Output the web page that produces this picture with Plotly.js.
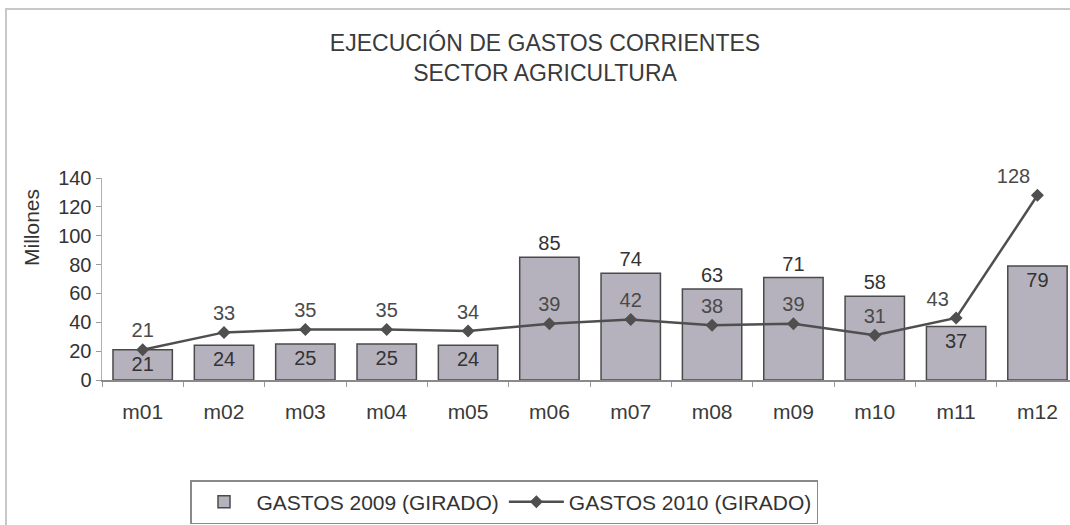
<!DOCTYPE html>
<html>
<head>
<meta charset="utf-8">
<script src="https://cdn.plot.ly/plotly-3.0.1.min.js"></script>
<style>
  html, body { margin: 0; padding: 0; background: #ffffff; }
  #chart { width: 1070px; height: 525px; }
</style>
</head>
<body>
<div id="chart"></div>
<script>
const months = ['m01','m02','m03','m04','m05','m06','m07','m08','m09','m10','m11','m12'];
const gastos2009 = [21, 24, 25, 25, 24, 85, 74, 63, 71, 58, 37, 79];
const gastos2010 = [21, 33, 35, 35, 34, 39, 42, 38, 39, 31, 43, 128];
const yTicks = [0, 20, 40, 60, 80, 100, 120, 140];

const barLabelPos = ['inside','inside','inside','inside','inside','outside','outside','outside','outside','outside','inside','inside'];
const lineLabelPos = ['top center','top center','top center','top center','top center','top center','top center','top center','top center','top center','top left','top left'];

const FONT = '"Liberation Sans", Arial, sans-serif';

const traces = [
  {
    type: 'bar',
    name: 'GASTOS 2009 (GIRADO)',
    x: months,
    y: gastos2009,
    text: gastos2009.map(String),
    textposition: barLabelPos,
    insidetextanchor: 'end',
    constraintext: 'none',
    textangle: 0,
    insidetextfont: { family: FONT, size: 20, color: '#333333' },
    outsidetextfont: { family: FONT, size: 20, color: '#333333' },
    cliponaxis: false,
    marker: { color: '#b6b2bd', line: { color: '#4a4a4a', width: 1.5 } },
    hoverinfo: 'x+y'
  },
  {
    type: 'scatter',
    mode: 'lines+markers+text',
    name: 'GASTOS 2010 (GIRADO)',
    x: months,
    y: gastos2010,
    text: gastos2010.map(String),
    textposition: lineLabelPos,
    textfont: { family: FONT, size: 20, color: '#4a4a4a' },
    cliponaxis: false,
    line: { color: '#4f4f4f', width: 2.5 },
    marker: { symbol: 'diamond', size: 10, color: '#4f4f4f' },
    hoverinfo: 'x+y'
  }
];

const layout = {
  width: 1070,
  height: 525,
  margin: { l: 102, r: 0, t: 178, b: 145, pad: 0 },
  paper_bgcolor: '#ffffff',
  plot_bgcolor: '#ffffff',
  font: { family: FONT, color: '#333333' },
  bargap: 0.27,
  showlegend: true,
  title: {
    text: 'EJECUCIÓN DE GASTOS CORRIENTES<br>SECTOR AGRICULTURA',
    font: { family: FONT, size: 23, color: '#3a3a3a' },
    xref: 'container', x: 545 / 1070, xanchor: 'center',
    yref: 'container', y: 1 - 51 / 525, yanchor: 'middle'
  },
  xaxis: {
    type: 'category',
    range: [-0.5, 11.4],
    showline: true,
    linecolor: '#8a8a8a',
    linewidth: 1.5,
    ticks: 'outside',
    tickson: 'boundaries',
    ticklen: 5,
    tickcolor: '#999999',
    ticklabelstandoff: 12,
    tickfont: { family: FONT, size: 21, color: '#3a3a3a' },
    showgrid: false,
    zeroline: false,
    fixedrange: true
  },
  yaxis: {
    range: [0, 140],
    tickvals: yTicks,
    ticktext: yTicks.map(String),
    showline: true,
    linecolor: '#b0b0b0',
    linewidth: 1.5,
    ticks: 'outside',
    ticklen: 5,
    tickcolor: '#999999',
    tickfont: { family: FONT, size: 20, color: '#333333' },
    showgrid: false,
    zeroline: false,
    fixedrange: true
  },
  annotations: [
    {
      text: 'Millones',
      textangle: -90,
      xref: 'paper', yref: 'paper',
      x: (31 - 102) / 968, y: (380 - 228) / 202,
      xanchor: 'center', yanchor: 'middle',
      showarrow: false,
      font: { family: FONT, size: 21, color: '#333333' }
    }
  ],
  legend: {
    orientation: 'h',
    xref: 'container', x: 190 / 1070, xanchor: 'left',
    yref: 'container', y: (525 - 480) / 525, yanchor: 'top',
    bordercolor: '#8a8a8a',
    borderwidth: 1.5,
    bgcolor: '#ffffff',
    font: { family: FONT, size: 21, color: '#333333' },
    itemwidth: 55,
    traceorder: 'normal'
  },
  shapes: [
    {
      type: 'rect', xref: 'paper', yref: 'paper',
      x0: (6 - 102) / 968, x1: 1.02,
      y0: (380 - 540) / 202, y1: (380 - 9) / 202,
      line: { color: '#c8c8c8', width: 2 },
      fillcolor: 'rgba(0,0,0,0)',
      layer: 'below'
    }
  ]
};

Plotly.newPlot('chart', traces, layout, { displayModeBar: false, staticPlot: true });
</script>
</body>
</html>
